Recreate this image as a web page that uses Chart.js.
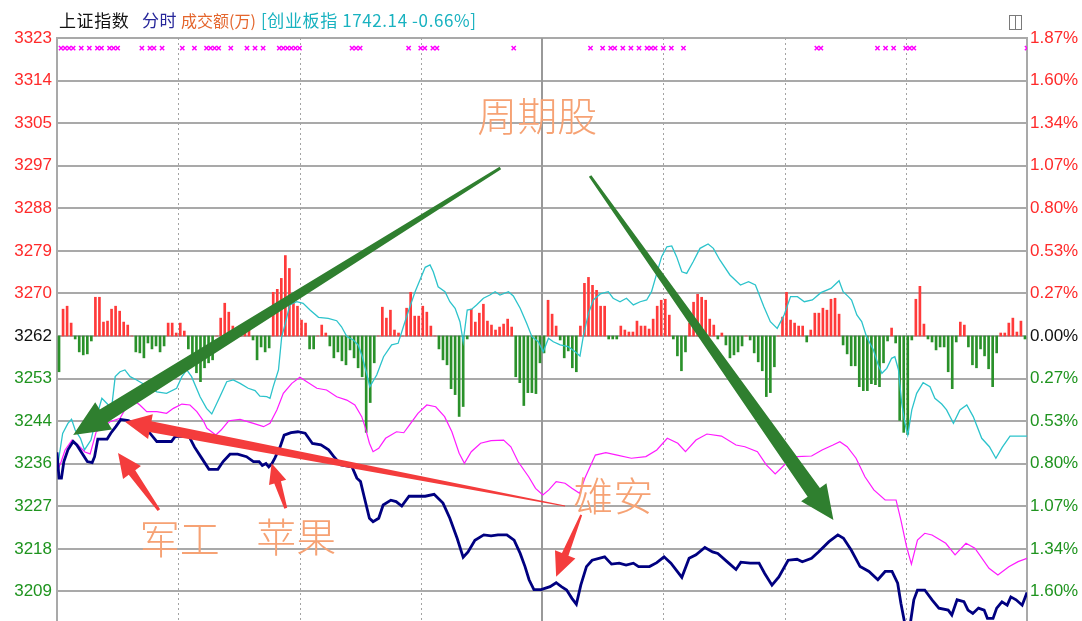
<!DOCTYPE html>
<html lang="zh">
<head>
<meta charset="utf-8">
<title>上证指数 分时</title>
<script src="https://cdn.jsdelivr.net/npm/chart.js@4.4.1/dist/chart.umd.min.js"></script>
<style>
  html, body { margin: 0; padding: 0; background: #fff; }
  body { width: 1082px; height: 621px; overflow: hidden; position: relative; font-family: "Noto Sans CJK SC", "Liberation Sans", sans-serif; }
  #wrap { position: absolute; left: 0; top: 0; width: 1082px; height: 660px; }
  .caption { position: absolute; top: 8px; font-size: 17px; line-height: 24px; letter-spacing: 0.6px; white-space: nowrap; }
  .c1 { left: 59px; color: #111; }
  .c2 { left: 142px; color: #26269a; }
  .c3 { left: 181px; color: #e4652c; font-size: 16px; letter-spacing: 0; }
  .c4 { left: 261px; color: #19b2c0; }
  .layout-icon { position: absolute; left: 1009px; top: 15px; width: 11px; height: 13px; border: 1px solid #7a7a7a; }
  .layout-icon::after { content: ""; position: absolute; left: 5px; top: 0; width: 1px; height: 13px; background: #7a7a7a; }
</style>
</head>
<body>
<div id="wrap">
  <canvas id="chart" width="1082" height="660"></canvas>
</div>
<div class="caption c1">上证指数</div>
<div class="caption c2">分时</div>
<div class="caption c3">成交额(万)</div>
<div class="caption c4">[创业板指 1742.14 -0.66%]</div>
<div class="layout-icon"></div>

<script>
// previous close and top of the price axis
const prevClose = 3262;
const axisTopPrice = 3323;
const axisTopPct = 1.87;

const leftTickLabels = ["3323", "3314", "3305", "3297", "3288", "3279", "3270", "3262",
  "3253", "3244", "3236", "3227", "3218", "3209", ""];
const rightTickLabels = ["1.87%", "1.60%", "1.34%", "1.07%", "0.80%", "0.53%", "0.27%", "0.00%",
  "0.27%", "0.53%", "0.80%", "1.07%", "1.34%", "1.60%", ""];

// half-hour marks (minutes after 9:30), 120 = midday break
const halfHourMarks = [30, 60, 90, 120, 150, 180, 210];
const middayMark = 120;

// 上证指数 price line
const navyMinutes = [
  0, 0.5, 1.1, 1.7, 2.7, 4.0, 4.9, 6.2, 7.5, 8.7,
  9.3, 10.1, 12.4, 13.3, 14.6, 15.8, 17.7, 19.9, 21.3, 23.0,
  24.7, 28.3, 29.2, 30.9, 32.7, 34.0, 35.8, 37.6, 39.8, 41.1,
  42.8, 44.7, 46.9, 48.6, 50.0, 50.8, 51.7, 52.4, 53.2, 53.9,
  55.2, 56.2, 57.9, 59.6, 61.4, 63.2, 65.3, 67.2, 68.5, 70.3,
  73.0, 74.2, 75.1, 76.0, 77.3, 78.2, 79.6, 80.7, 82.6, 83.9,
  85.3, 87.1, 91.1, 93.3, 95.5, 97.2, 99.0, 100.5, 101.7, 103.4,
  105.6, 107.4, 109.1, 111.3, 113.1, 114.6, 115.8, 116.8, 118.0, 119.8,
  122.0, 123.5, 124.8, 126.1, 127.4, 128.5, 129.6, 131.0, 132.4, 135.5,
  137.2, 139.1, 140.8, 142.6, 143.9, 146.6, 148.4, 150.2, 151.9, 154.6,
  156.4, 158.1, 160.3, 162.2, 163.5, 166.2, 168.0, 169.2, 171.5, 173.7,
  175.1, 176.9, 178.6, 180.9, 183.1, 184.4, 186.7, 188.4, 191.0, 193.2,
  194.6, 196.5, 198.7, 200.9, 203.1, 204.9, 206.6, 208.0, 208.8, 209.8,
  211.1, 212.0, 212.9, 214.7, 216.5, 218.2, 220.5, 221.4, 222.7, 224.4,
  225.4, 226.6, 228.0, 229.4, 230.2, 231.6, 232.5, 233.8, 235.1, 236.0,
  237.3, 238.8, 240
];
const navyPrices = [
  3238.2, 3232.9, 3232.9, 3236.3, 3238.7, 3240.4, 3239.7, 3238.0, 3236.3, 3236.1,
  3237.3, 3240.9, 3240.9, 3242.1, 3243.5, 3244.9, 3244.7, 3243.6, 3243.1, 3242.1,
  3240.4, 3240.4, 3241.4, 3241.5, 3241.4, 3239.3, 3237.0, 3234.7, 3234.7, 3236.3,
  3237.8, 3237.8, 3237.3, 3236.3, 3236.3, 3235.5, 3235.9, 3235.2, 3235.9, 3237.0,
  3239.3, 3241.7, 3242.2, 3242.4, 3242.1, 3240.0, 3239.7, 3238.7, 3237.3, 3235.6,
  3235.2, 3232.9, 3232.2, 3229.1, 3224.7, 3224.0, 3224.7, 3227.4, 3228.4, 3228.1,
  3227.2, 3229.2, 3229.2, 3229.6, 3227.8, 3224.7, 3220.6, 3216.7, 3217.8, 3220.2,
  3221.3, 3221.1, 3221.3, 3221.3, 3220.2, 3217.5, 3214.8, 3212.1, 3210.1, 3210.1,
  3210.7, 3211.5, 3210.7, 3210.0, 3208.3, 3207.1, 3211.0, 3214.8, 3216.1, 3216.8,
  3215.3, 3215.5, 3215.1, 3215.5, 3214.8, 3214.8, 3215.6, 3216.8, 3215.5, 3212.6,
  3216.5, 3217.2, 3218.7, 3217.8, 3217.5, 3215.5, 3214.2, 3215.7, 3215.5, 3215.5,
  3213.4, 3211.0, 3212.7, 3216.1, 3216.3, 3215.8, 3216.5, 3217.8, 3219.9, 3221.3,
  3220.6, 3218.2, 3214.8, 3213.8, 3212.1, 3213.8, 3213.8, 3211.4, 3207.3, 3203.0,
  3203.0, 3208.0, 3210.0, 3210.0, 3208.0, 3206.3, 3205.9, 3204.9, 3208.0, 3207.6,
  3205.9, 3205.2, 3206.3, 3205.9, 3204.2, 3204.2, 3206.3, 3207.6, 3206.9, 3208.6,
  3208.0, 3206.9, 3209.5
];

// magenta overlay, % change
const magentaMinutes = [
  0, 1.0, 2.0, 3.7, 5.2, 6.9, 8.2, 9.7, 11.1, 13.1,
  15.6, 17.2, 18.9, 20.5, 22.2, 24.7, 27.1, 28.8, 30.9, 32.9,
  34.6, 36.2, 37.1, 39.3, 40.6, 42.5, 45.3, 48.6, 51.1, 52.7,
  54.4, 56.0, 58.1, 60.1, 61.8, 64.3, 66.7, 69.2, 71.7, 73.7,
  75.4, 76.2, 77.3, 78.2, 79.6, 81.3, 84.0, 85.8, 87.5, 89.3,
  91.5, 93.7, 95.9, 97.7, 99.5, 100.8, 102.5, 104.8, 107.4, 110.5,
  112.3, 114.1, 116.7, 118.4, 120.2, 121.7, 123.5, 125.7, 127.4, 129.3,
  130.6, 133.2, 135.8, 138.6, 142.1, 145.7, 148.4, 151.0, 153.6, 155.5,
  158.1, 160.8, 164.4, 168.0, 170.2, 173.3, 175.5, 177.7, 180.4, 183.1,
  186.7, 189.3, 192.0, 193.7, 195.5, 197.7, 199.9, 202.1, 204.9, 207.6,
  208.8, 210.2, 211.4, 212.9, 214.7, 216.5, 219.9, 222.2, 224.9, 227.1,
  230.6, 232.8, 235.5, 237.8, 240
];
const magentaPct = [
  -0.853, -0.791, -0.715, -0.653, -0.684, -0.728, -0.740, -0.601, -0.579, -0.538,
  -0.516, -0.444, -0.402, -0.433, -0.475, -0.475, -0.485, -0.454, -0.427, -0.433,
  -0.475, -0.532, -0.579, -0.621, -0.590, -0.532, -0.523, -0.548, -0.569, -0.548,
  -0.464, -0.360, -0.297, -0.259, -0.287, -0.328, -0.339, -0.381, -0.402, -0.433,
  -0.506, -0.569, -0.673, -0.726, -0.705, -0.642, -0.601, -0.607, -0.548, -0.485,
  -0.433, -0.444, -0.506, -0.601, -0.736, -0.799, -0.726, -0.673, -0.657, -0.653,
  -0.695, -0.789, -0.883, -0.956, -0.998, -0.966, -0.914, -0.924, -0.956, -0.987,
  -0.893, -0.747, -0.732, -0.747, -0.767, -0.757, -0.715, -0.642, -0.673, -0.726,
  -0.653, -0.615, -0.628, -0.684, -0.695, -0.726, -0.809, -0.866, -0.799, -0.757,
  -0.753, -0.715, -0.684, -0.663, -0.695, -0.767, -0.883, -0.966, -1.029, -1.029,
  -1.155, -1.322, -1.431, -1.280, -1.238, -1.249, -1.301, -1.374, -1.301, -1.332,
  -1.458, -1.500, -1.448, -1.416, -1.395
];

// 创业板指 overlay, % change
const cyanMinutes = [
  0, 1.4, 2.7, 3.6, 4.5, 5.8, 6.8, 8.4, 9.7, 11.1,
  12.3, 13.5, 14.4, 15.6, 16.8, 18.1, 19.7, 21.4, 23.0, 24.7,
  27.1, 29.6, 30.9, 32.1, 33.3, 35.4, 37.0, 38.3, 40.3, 42.0,
  43.6, 45.3, 47.3, 49.0, 50.2, 51.9, 52.7, 53.5, 54.8, 55.6,
  56.4, 57.6, 59.3, 60.9, 62.6, 64.7, 67.1, 69.2, 70.4, 71.7,
  73.3, 74.5, 75.4, 76.6, 77.4, 79.1, 80.8, 82.8, 84.4, 85.7,
  86.9, 88.6, 89.8, 91.1, 92.3, 93.1, 94.3, 96.0, 97.2, 98.5,
  99.7, 100.5, 101.5, 102.6, 103.8, 105.5, 107.1, 108.4, 109.6, 111.7,
  112.9, 114.6, 116.2, 117.5, 119.1, 120.3, 121.6, 122.8, 124.5, 126.5,
  128.2, 129.4, 130.2, 131.5, 132.7, 134.4, 136.4, 137.6, 139.3, 140.9,
  142.6, 144.3, 145.9, 147.1, 148.4, 149.6, 150.9, 152.1, 153.3, 154.6,
  155.8, 157.4, 159.1, 161.1, 162.4, 164.0, 166.5, 169.1, 171.1, 172.8,
  174.9, 176.5, 178.2, 179.9, 181.5, 183.2, 184.9, 186.9, 189.0, 191.5,
  193.5, 194.5, 195.8, 196.6, 197.9, 199.1, 200.3, 202.0, 203.2, 204.1,
  205.3, 206.5, 207.3, 208.2, 209.0, 209.8, 210.5, 211.5, 212.7, 214.3,
  216.0, 217.2, 218.9, 220.1, 221.8, 223.4, 225.1, 226.7, 228.8, 230.7,
  232.3, 233.9, 235.8, 240
];
const cyanPct = [
  -0.841, -0.611, -0.548, -0.523, -0.590, -0.642, -0.715, -0.653, -0.515, -0.391,
  -0.422, -0.454, -0.255, -0.224, -0.213, -0.255, -0.276, -0.301, -0.328, -0.350,
  -0.360, -0.328, -0.255, -0.213, -0.255, -0.381, -0.454, -0.489, -0.381, -0.287,
  -0.276, -0.297, -0.328, -0.343, -0.377, -0.381, -0.391, -0.318, -0.213, -0.004,
  0.069, 0.195, 0.215, 0.205, 0.163, 0.117, 0.111, 0.096, 0.058, -0.004,
  -0.025, -0.056, -0.119, -0.234, -0.318, -0.245, -0.130, -0.056, -0.046, 0.058,
  0.152, 0.278, 0.351, 0.431, 0.446, 0.403, 0.309, 0.278, 0.215, 0.174,
  0.090, -0.036, 0.163, 0.168, 0.195, 0.237, 0.257, 0.278, 0.257, 0.278,
  0.251, 0.174, 0.080, -0.004, -0.036, -0.099, -0.014, -0.036, -0.056, -0.067,
  -0.099, -0.126, -0.004, 0.142, 0.226, 0.264, 0.278, 0.237, 0.215, 0.237,
  0.195, 0.215, 0.226, 0.278, 0.393, 0.498, 0.560, 0.565, 0.498, 0.403,
  0.393, 0.466, 0.550, 0.577, 0.550, 0.477, 0.383, 0.320, 0.341, 0.320,
  0.184, 0.090, 0.048, 0.132, 0.247, 0.247, 0.215, 0.226, 0.272, 0.299,
  0.347, 0.278, 0.247, 0.226, 0.132, 0.090, -0.004, -0.088, -0.182, -0.234,
  -0.203, -0.140, -0.130, -0.213, -0.422, -0.548, -0.621, -0.464, -0.360, -0.293,
  -0.318, -0.391, -0.427, -0.464, -0.548, -0.464, -0.433, -0.506, -0.642, -0.695,
  -0.767, -0.697, -0.628, -0.628
];

// red/green strength bars, one per minute slot (0 = no bar)
const barValues = [
  -36, 27, 30, 13, -3, -16, -19, -18, -5, 39, 39, 14, 15, 27, 30, 25, 14, 11, 0, -16,
  -17, -22, -7, -13, -10, -16, -10, 13, 13, 3, 13, 5, -13, -24, -37, -46, -32, -27, -24, 0,
  18, 33, 24, 10, 6, 0, 4, 6, -4, -24, -11, -16, -12, 44, 47, 58, 81, 68, 43, 30,
  16, 13, -13, -13, 0, 11, 3, -10, -22, -16, -25, -29, -14, -22, -32, -41, -97, -67, -27, 0,
  29, 18, 26, 6, 3, 0, 28, 44, 20, 20, 30, 24, 10, 0, -13, -24, -29, -53, -59, -81,
  -71, -3, 27, 14, 23, 32, 15, 11, 6, 9, 12, 17, 9, -41, -47, -70, -57, -57, -58, -27,
  -17, 36, 22, 10, -4, -22, -15, -32, -36, 10, 53, 59, 51, 46, 30, 30, -3, -3, -3, 10,
  6, 4, 4, 15, 10, 10, 7, 17, 30, 36, 37, 21, -3, -20, -35, -16, 13, 34, 42, 39,
  36, 17, 11, -3, 3, -9, -22, -19, -16, -10, 0, -4, -17, -26, -35, -61, -57, -31, 0, 19,
  44, 16, 13, 10, 10, -6, 6, 23, 23, 28, 26, 37, 38, 22, -9, -18, -30, -30, -51, -55,
  -55, -48, -49, -51, -27, -5, 8, -7, -85, -97, -99, -4, 37, 50, 12, -3, -6, -14, -11, -11,
  -36, -53, -6, 14, 11, -11, -29, -32, -13, -20, -33, -51, -17, 3, 3, 13, 18, 4, 15, -3
];
const barRange = 300;

// magenta x signals along the top
const markerMinutes = [1, 2, 3, 4, 6, 8, 10, 11, 13, 14, 15, 21, 23, 24, 26, 31, 34, 37, 38, 39, 40,
  43, 47, 49, 51, 55, 56, 57, 58, 59, 60, 73, 74, 75, 87, 90, 91, 93, 94, 113, 132, 135, 137, 138,
  140, 142, 144, 146, 147, 148, 150, 152, 155, 188, 189, 203, 205, 207, 210, 211, 212, 240];
const markerPct = 1.807;

// hand-drawn notes (minute, % axis)
const noteLabels = ["周期股", "军工", "苹果", "雄安"];
const noteMinutes = [118.8, 30.4, 59.2, 137.6];
const notePcts = [1.381, -1.274, -1.261, -1.004];

const arrowFromMinutes = [109.7, 131.9, 125.7, 25.2, 56.6, 129.7];
const arrowFromPcts = [1.054, 1.004, -1.067, -1.092, -1.081, -1.123];
const arrowToMinutes = [4.0, 192.1, 16.8, 15.1, 53.1, 123.5];
const arrowToPcts = [-0.621, -1.155, -0.538, -0.734, -0.799, -1.510];

const UP = "#ff2a2a";
const DOWN = "#1f941f";
const GRID = "#a9a9a9";

const priceStep = (axisTopPrice - prevClose) / 7;
const pctStep = axisTopPct / 7;

function points(xs, ys) {
  return xs.map((x, i) => ({ x, y: ys[i] }));
}

function tickColor(k) {
  if (k < 7) return UP;
  if (k === 7) return "#111";
  return DOWN;
}

const arrowLook = [
  { color: "#2f7f2f", tail: 3, shaft: 15, headLen: 36, headWidth: 32 },
  { color: "#2f7f2f", tail: 3, shaft: 15, headLen: 34, headWidth: 31 },
  { color: "#f43c3c", tail: 1, shaft: 11, headLen: 26, headWidth: 25 },
  { color: "#f43c3c", tail: 3, shaft: 8, headLen: 24, headWidth: 22 },
  { color: "#f43c3c", tail: 3, shaft: 7, headLen: 20, headWidth: 18 },
  { color: "#f43c3c", tail: 2, shaft: 7, headLen: 24, headWidth: 22 },
];

function drawArrow(ctx, x0, y0, x1, y1, look) {
  const dx = x1 - x0;
  const dy = y1 - y0;
  const len = Math.hypot(dx, dy);
  const ux = dx / len;
  const uy = dy / len;
  const nx = -uy;
  const ny = ux;
  const bx = x1 - ux * look.headLen;
  const by = y1 - uy * look.headLen;
  ctx.beginPath();
  ctx.moveTo(x0 + nx * look.tail / 2, y0 + ny * look.tail / 2);
  ctx.lineTo(bx + nx * look.shaft / 2, by + ny * look.shaft / 2);
  ctx.lineTo(bx + nx * look.headWidth / 2, by + ny * look.headWidth / 2);
  ctx.lineTo(x1, y1);
  ctx.lineTo(bx - nx * look.headWidth / 2, by - ny * look.headWidth / 2);
  ctx.lineTo(bx - nx * look.shaft / 2, by - ny * look.shaft / 2);
  ctx.lineTo(x0 - nx * look.tail / 2, y0 - ny * look.tail / 2);
  ctx.closePath();
  ctx.fillStyle = look.color;
  ctx.fill();
}

const sessionGrid = {
  id: "sessionGrid",
  beforeDatasetsDraw(chart) {
    const { ctx, chartArea, scales } = chart;
    ctx.save();
    halfHourMarks.forEach((m) => {
      const solid = m === middayMark;
      const px = Math.round(scales.x.getPixelForValue(m)) + (solid ? 0 : 0.5);
      ctx.strokeStyle = solid ? "#999" : "#a3a3a3";
      ctx.lineWidth = solid ? 2 : 1;
      ctx.setLineDash(solid ? [] : [2, 3]);
      ctx.beginPath();
      ctx.moveTo(px, chartArea.top);
      ctx.lineTo(px, chartArea.bottom);
      ctx.stroke();
    });
    ctx.restore();
  },
};

const handNotes = {
  id: "handNotes",
  afterDatasetsDraw(chart) {
    const { ctx, scales } = chart;
    const x = scales.x;
    const y = scales.y2;
    ctx.save();
    arrowLook.forEach((look, i) => {
      drawArrow(
        ctx,
        x.getPixelForValue(arrowFromMinutes[i]), y.getPixelForValue(arrowFromPcts[i]),
        x.getPixelForValue(arrowToMinutes[i]), y.getPixelForValue(arrowToPcts[i]),
        look
      );
    });
    ctx.font = '300 40px "Noto Sans CJK SC", sans-serif';
    ctx.textAlign = "center";
    ctx.textBaseline = "middle";
    ctx.fillStyle = "#f6a274";
    noteLabels.forEach((label, i) => {
      ctx.fillText(label, x.getPixelForValue(noteMinutes[i]), y.getPixelForValue(notePcts[i]));
    });
    ctx.restore();
  },
};

new Chart(document.getElementById("chart"), {
  data: {
    datasets: [
      {
        type: "line",
        label: "上证指数",
        data: points(navyMinutes, navyPrices),
        yAxisID: "y",
        borderColor: "#000080",
        borderWidth: 2.8,
        pointRadius: 0,
        tension: 0,
        order: 1,
      },
      {
        type: "line",
        label: "叠加",
        data: points(magentaMinutes, magentaPct),
        yAxisID: "y2",
        borderColor: "#ff1aff",
        borderWidth: 1.2,
        pointRadius: 0,
        tension: 0,
        order: 2,
      },
      {
        type: "line",
        label: "创业板指",
        data: points(cyanMinutes, cyanPct),
        yAxisID: "y2",
        borderColor: "#2cc3cb",
        borderWidth: 1.3,
        pointRadius: 0,
        tension: 0,
        order: 3,
      },
      {
        type: "bar",
        label: "力道",
        data: barValues.map((v, k) => ({ x: k + 0.5, y: v })),
        yAxisID: "yForce",
        backgroundColor: (c) => (c.raw && c.raw.y >= 0 ? "#ff3a3a" : "#2a912a"),
        barThickness: 2,
        order: 4,
      },
      {
        type: "line",
        label: "信号",
        data: markerMinutes.map((m) => ({ x: m, y: markerPct })),
        yAxisID: "y2",
        showLine: false,
        pointStyle: "crossRot",
        pointRadius: 3,
        pointBorderColor: "#ff00ff",
        pointBorderWidth: 1.5,
        order: 5,
      },
    ],
  },
  options: {
    responsive: false,
    animation: false,
    devicePixelRatio: 1,
    events: [],
    layout: { padding: { top: 38, bottom: 26, left: 0, right: 0 } },
    plugins: { legend: { display: false }, tooltip: { enabled: false } },
    scales: {
      x: { type: "linear", min: 0, max: 240, offset: false, display: false },
      y: {
        position: "left",
        min: axisTopPrice - 14 * priceStep,
        max: axisTopPrice,
        afterBuildTicks: (scale) => {
          scale.ticks = leftTickLabels.map((_, k) => ({ value: axisTopPrice - k * priceStep })).reverse();
        },
        afterFit: (scale) => { scale.width = 57; },
        ticks: {
          padding: 5,
          font: { family: "Liberation Sans", size: 17 },
          color: (c) => tickColor(Math.round((axisTopPrice - c.tick.value) / priceStep)),
          callback: (value) => leftTickLabels[Math.round((axisTopPrice - value) / priceStep)],
        },
        grid: { color: GRID, lineWidth: 2, drawTicks: false },
        border: { display: true, color: GRID, width: 2 },
      },
      y2: {
        position: "right",
        min: -axisTopPct,
        max: axisTopPct,
        afterBuildTicks: (scale) => {
          scale.ticks = rightTickLabels.map((_, k) => ({ value: axisTopPct - k * pctStep })).reverse();
        },
        afterFit: (scale) => { scale.width = 55; },
        ticks: {
          padding: 3,
          font: { family: "Liberation Sans", size: 17 },
          color: (c) => tickColor(Math.round((axisTopPct - c.tick.value) / pctStep)),
          callback: (value) => rightTickLabels[Math.round((axisTopPct - value) / pctStep)],
        },
        grid: { drawOnChartArea: false, drawTicks: false },
        border: { display: true, color: GRID, width: 2 },
      },
      yForce: { display: false, min: -barRange, max: barRange },
    },
  },
  plugins: [sessionGrid, handNotes],
});
</script>
</body>
</html>
